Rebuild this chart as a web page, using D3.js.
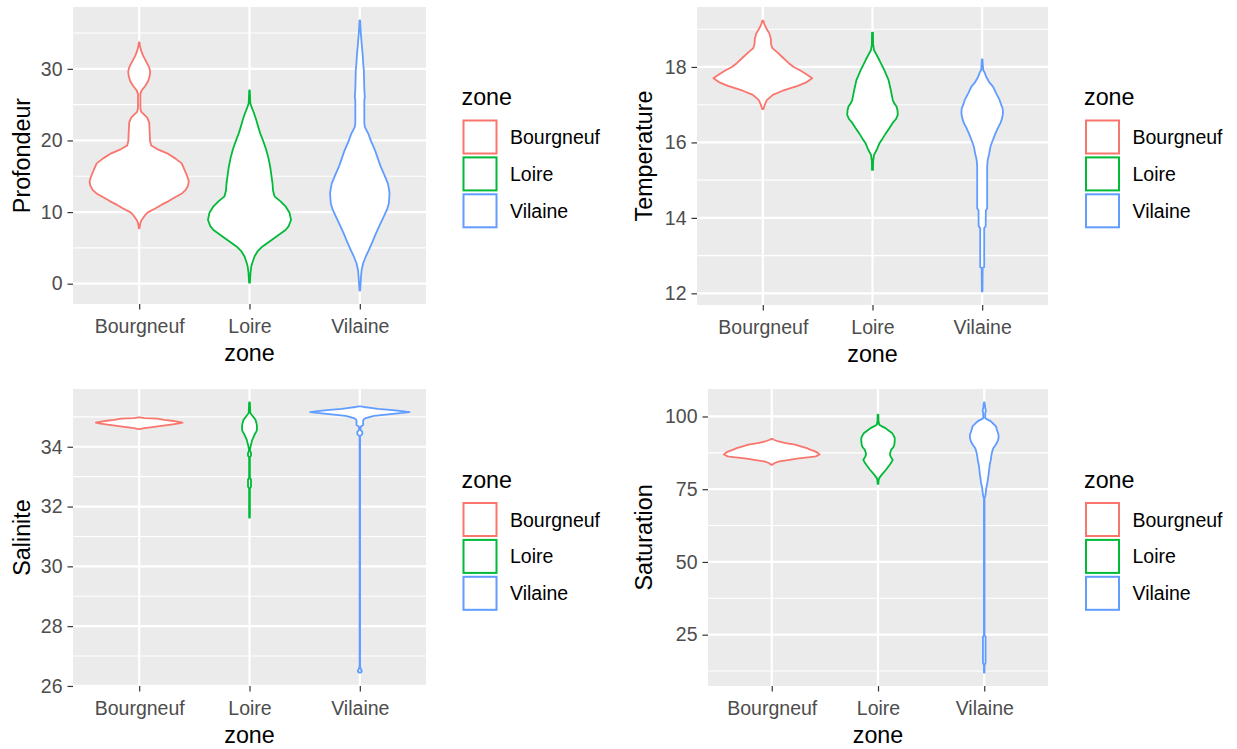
<!DOCTYPE html>
<html><head><meta charset="utf-8">
<script src="https://cdn.jsdelivr.net/npm/d3@7"></script>
<style>body{margin:0;background:#fff} svg{display:block} text{font-family:"Liberation Sans",Arial,sans-serif}</style>
</head><body><svg id="c" width="1237" height="749"></svg>
<script>
// ---------------- DATA ----------------
const zones = ["Bourgneuf", "Loire", "Vilaine"];
const zoneColors = ["#F8766D", "#00BA38", "#619CFF"];
const legendTitle = "zone";

const profondeurTicks = [0, 10, 20, 30];
const temperatureTicks = [12, 14, 16, 18];
const saliniteTicks = [26, 28, 30, 32, 34];
const saturationTicks = [25, 50, 75, 100];

// violin profiles: [value, relative density]
const profondeurBourgneuf = [[7.74,0.3],[8.5,1.2],[8.9,2.5],[9.6,6],[10.0,9],[10.5,16],[11.0,22],[11.5,29],[12.0,35],[12.6,42.7],[13.1,46.5],[13.7,48.8],[14.3,49.6],[15.0,48],[16.0,45],[16.8,42.5],[17.5,36],[18.2,28],[18.8,18],[19.3,12],[20.0,10.8],[21.0,10.5],[22.5,10],[23.2,8],[23.6,5],[24.0,2],[24.5,1.2],[26.5,1.2],[27.0,2.5],[27.6,6],[28.3,9],[29.0,10.5],[29.6,11],[30.2,10],[31.0,7],[31.8,4],[32.5,2],[33.2,0.8],[33.7,0.3]];
const profondeurLoire = [[0.14,0.4],[1.5,1],[2.4,1.8],[3.0,3],[3.8,5],[4.5,8],[5.2,13],[5.9,20],[6.6,27],[7.5,36],[8.0,39],[8.9,41.5],[9.9,40],[10.8,36],[11.5,31],[12.2,25],[13.0,23.5],[14.0,23],[15.0,22],[16.3,20.7],[17.5,19],[18.7,16.7],[20.0,13.5],[21.0,10.7],[22.0,8.5],[22.9,6.7],[23.8,4.5],[24.7,2],[25.2,0.8],[27.0,0.3]];
const profondeurVilaine = [[-0.95,0.3],[0,0.8],[1.0,1.2],[1.9,1.8],[2.85,3.3],[3.8,6],[4.7,9],[5.8,12.5],[7.0,16],[8.2,20],[9.4,24],[10.3,27],[11.2,29],[12.6,29.7],[13.3,29],[14.0,28],[15.2,24.5],[16.3,21],[17.5,18],[18.7,15],[19.8,11.5],[21.0,8.3],[21.9,5],[22.5,4.5],[25.7,4.5],[26.0,5],[27.1,4.5],[29.9,4],[30.5,3.5],[31.7,3],[33.3,2],[35.0,1],[36.75,0.3]];

const temperatureBourgneuf = [[16.88,0.5],[17.0,2],[17.12,4],[17.26,10],[17.37,20],[17.43,27],[17.5,35],[17.6,44],[17.7,49.4],[17.8,44],[17.9,38],[18.0,31],[18.1,26],[18.25,20],[18.4,14],[18.5,9.5],[18.6,8.3],[18.75,8],[18.89,6.5],[19.0,4],[19.1,2],[19.23,0.4]];
const temperatureLoire = [[15.27,0.5],[15.5,0.6],[15.67,1.5],[15.82,4.5],[15.98,7],[16.1,10],[16.24,13.3],[16.38,17],[16.51,20],[16.62,23.5],[16.73,25.3],[16.85,25],[16.95,24],[17.05,21.5],[17.12,20.3],[17.39,18.3],[17.66,16],[17.92,11.7],[18.19,6.7],[18.35,3.5],[18.45,1.5],[18.6,0.6],[18.91,0.5]];
const temperatureVilaine = [[12.05,0.3],[12.67,0.5],[12.7,2],[13.73,2],[13.78,3.5],[14.2,3.7],[14.25,5],[15.36,5],[15.53,5.5],[15.7,7],[15.89,8.3],[16.05,10.5],[16.24,13.3],[16.4,16],[16.51,18.3],[16.65,20],[16.77,20.8],[16.9,20.5],[17.0,19],[17.12,17.5],[17.3,14],[17.48,10.8],[17.6,7],[17.74,4],[17.85,2.5],[17.92,1],[18.2,0.3]];

const saliniteBourgneuf = [[34.59,0.5],[34.62,5],[34.66,13.3],[34.7,22],[34.74,31.7],[34.78,40],[34.81,43.3],[34.84,38],[34.87,32.5],[34.9,25],[34.94,18],[34.96,5],[34.98,0.5]];
const saliniteLoire = [[31.63,0.4],[32.6,0.4],[32.67,1.5],[32.9,1.5],[32.95,0.4],[33.65,0.4],[33.7,1.5],[33.8,1.5],[33.85,0.5],[33.93,0.6],[34.07,1.5],[34.23,2.7],[34.4,5],[34.54,7.3],[34.64,7.5],[34.74,7.3],[34.9,6],[35.02,3.3],[35.13,0.8],[35.48,0.4]];
const saliniteVilaine = [[26.45,1.2],[26.5,2],[26.6,0.6],[26.7,0.25],[34.35,0.25],[34.42,2.5],[34.5,2.5],[34.57,0.6],[34.68,1],[34.73,3.3],[34.87,3.3],[34.92,4],[34.96,6],[35.03,14],[35.1,33],[35.16,49.6],[35.2,40],[35.23,30],[35.27,18],[35.3,10.8],[35.33,4],[35.35,1]];

const saturationBourgneuf = [[83.4,0.5],[84.0,3],[84.55,7.5],[85.0,16],[85.5,25],[86.0,38],[86.3,44],[86.95,47.8],[87.5,46],[88.0,43.3],[88.5,39],[89.1,35],[89.7,29],[90.3,23.3],[90.8,14],[91.4,6.7],[92.0,2],[92.3,0.5]];
const saturationLoire = [[76.8,0.4],[78.0,0.6],[78.8,1.2],[80.0,3.8],[81.7,8],[83.4,11.7],[84.3,13.5],[85.1,14.7],[86.0,13],[86.8,12],[87.7,12.3],[88.6,13.3],[89.5,15.5],[90.3,16.3],[91.5,16.7],[92.6,16.7],[93.5,15.5],[94.3,14],[95.2,10.5],[96.0,7.5],[96.6,4],[97.15,1.2],[98.5,0.5],[100.6,0.4]];
const saturationVilaine = [[12.0,0.3],[14.5,0.3],[15.3,1.3],[24.4,1.3],[24.6,0.3],[72.0,0.3],[72.5,1],[74.0,1.6],[76.0,2.3],[76.5,2.8],[78.0,3.5],[80.0,4.3],[82.0,5],[83.4,5.5],[85.0,6.5],[86.8,7.2],[88.0,8],[89.1,9],[90.3,11.5],[91.4,13.3],[92.5,14.3],[93.7,14.3],[95.0,13],[96.6,11.7],[97.5,9],[98.3,6.7],[99.0,3],[99.4,1],[101.0,1],[102.0,1.6],[103.0,1],[104.8,0.3]];

// ---------------- LAYOUT ----------------
const panels = [
  {name:"Profondeur", series:[profondeurBourgneuf, profondeurLoire, profondeurVilaine], ticks:profondeurTicks,
   box:{x0:73, x1:426, y0:7, y1:304}, yTitleX:30, legX:462.5, legY:0},
  {name:"Temperature", series:[temperatureBourgneuf, temperatureLoire, temperatureVilaine], ticks:temperatureTicks,
   box:{x0:697, x1:1048, y0:7, y1:305}, yTitleX:652, legX:1085, legY:0},
  {name:"Salinite", series:[saliniteBourgneuf, saliniteLoire, saliniteVilaine], ticks:saliniteTicks,
   box:{x0:73, x1:426, y0:389, y1:686}, yTitleX:30, legX:462.5, legY:382.5},
  {name:"Saturation", series:[saturationBourgneuf, saturationLoire, saturationVilaine], ticks:saturationTicks,
   box:{x0:708, x1:1048, y0:389, y1:686}, yTitleX:652, legX:1085, legY:382.5}
];

const svg = d3.select("#c");
const TICK_FS = 19.5, TITLE_FS = 23.3;

panels.forEach(p => {
  const b = p.box;
  const all = p.series.flat().map(d => d[0]);
  const lo = d3.min(all), hi = d3.max(all), pad = (hi - lo) * 0.05;
  const y = d3.scaleLinear().domain([lo - pad, hi + pad]).range([b.y1, b.y0]);
  const x = d3.scalePoint().domain(zones).range([b.x0, b.x1]).padding(0.6);
  const maxDens = d3.max(p.series.flat(), d => d[1]);
  const w = d3.scaleLinear().domain([0, maxDens]).range([0, 0.45 * x.step()]);

  const g = svg.append("g");
  g.append("rect").attr("x", b.x0).attr("y", b.y0).attr("width", b.x1 - b.x0).attr("height", b.y1 - b.y0).attr("fill", "#EBEBEB");

  // minor grid
  const step = p.ticks[1] - p.ticks[0];
  const dom = y.domain();
  const minor = [];
  p.ticks.forEach(t => { [t - step/2, t + step/2].forEach(m => { if (m > dom[0] && m < dom[1] && !minor.includes(m)) minor.push(m); }); });
  g.selectAll(".mn").data(minor).join("line").attr("x1", b.x0).attr("x2", b.x1)
    .attr("y1", d => y(d)).attr("y2", d => y(d)).attr("stroke", "#fff").attr("stroke-width", 1.1);
  g.selectAll(".mj").data(p.ticks).join("line").attr("x1", b.x0).attr("x2", b.x1)
    .attr("y1", d => y(d)).attr("y2", d => y(d)).attr("stroke", "#fff").attr("stroke-width", 2.2);
  g.selectAll(".mx").data(zones).join("line").attr("y1", b.y0).attr("y2", b.y1)
    .attr("x1", d => x(d)).attr("x2", d => x(d)).attr("stroke", "#fff").attr("stroke-width", 2.2);

  // violins
  p.series.forEach((s, i) => {
    const cx = x(zones[i]);
    const area = d3.area().y(d => y(d[0])).x0(d => cx - w(d[1])).x1(d => cx + w(d[1]));
    g.append("path").attr("d", area(s)).attr("fill", "#fff").attr("stroke", zoneColors[i])
      .attr("stroke-width", 1.8).attr("stroke-linejoin", "round");
  });

  // axes
  const ya = g.append("g").attr("transform", `translate(${b.x0},0)`)
    .call(d3.axisLeft(y).tickValues(p.ticks).tickSize(5.5).tickPadding(5));
  ya.select(".domain").remove();
  ya.selectAll("line").attr("stroke", "#333").attr("stroke-width", 1.2);
  ya.selectAll("text").attr("fill", "#4D4D4D").attr("font-size", TICK_FS).attr("font-family", "Liberation Sans, Arial, sans-serif");

  const xa = g.append("g").attr("transform", `translate(0,${b.y1})`)
    .call(d3.axisBottom(x).tickSize(5.5));
  xa.select(".domain").remove();
  xa.selectAll("line").attr("stroke", "#333").attr("stroke-width", 1.2);
  xa.selectAll("text").attr("fill", "#4D4D4D").attr("font-size", TICK_FS).attr("font-family", "Liberation Sans, Arial, sans-serif")
    .attr("dy", null).attr("y", 28.5);

  // titles
  g.append("text").attr("x", (b.x0 + b.x1) / 2).attr("y", b.y1 + 57).attr("text-anchor", "middle")
    .attr("font-size", TITLE_FS).attr("fill", "#000").text(legendTitle);
  g.append("text").attr("transform", `translate(${p.yTitleX},${(b.y0 + b.y1) / 2}) rotate(-90)`)
    .attr("text-anchor", "middle").attr("font-size", TITLE_FS).attr("fill", "#000").text(p.name);

  // legend
  const lg = g.append("g").attr("transform", `translate(${p.legX},${p.legY})`);
  lg.append("text").attr("x", -1).attr("y", 105).attr("font-size", TITLE_FS).attr("fill", "#000").text(legendTitle);
  zones.forEach((z, i) => {
    lg.append("rect").attr("x", 1).attr("y", 120.5 + i * 36.9).attr("width", 33).attr("height", 33)
      .attr("fill", "#fff").attr("stroke", zoneColors[i]).attr("stroke-width", 2);
    lg.append("text").attr("x", 47.5).attr("y", 144 + i * 36.9).attr("font-size", TICK_FS).attr("fill", "#000").text(z);
  });
});
</script></body></html>
